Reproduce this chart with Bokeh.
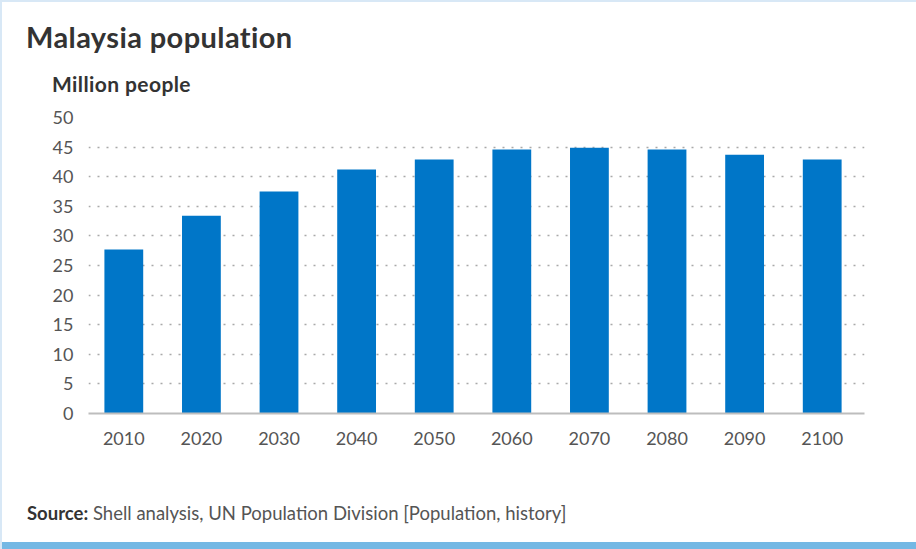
from bokeh.plotting import figure
from bokeh.models import Range1d, ColumnDataSource, Div, FixedTicker
from bokeh.layouts import column
from bokeh.embed import file_html
from bokeh.resources import INLINE

years = ["2010", "2020", "2030", "2040", "2050", "2060", "2070", "2080", "2090", "2100"]
population = [27.7, 33.4, 37.5, 41.2, 42.9, 44.6, 44.9, 44.6, 43.7, 42.9]
y_ticks = [0, 5, 10, 15, 20, 25, 30, 35, 40, 45, 50]

title_text = "Malaysia population"
unit_text = "Million people"
source_label = "Source:"
source_text = "Shell analysis, UN Population Division [Population, history]"

W, H = 916, 549
TOP_H, BOT_H = 100, 89
FIG_H = H - TOP_H - BOT_H  # 360
FL, FR, FT, FB = 88, 864, 117, 413  # frame edges in page pixels

xpos = list(range(len(years)))
p = figure(width=W, height=FIG_H, output_backend="svg", toolbar_location=None,
           x_range=Range1d(-0.455, len(years) - 0.455), y_range=Range1d(0, 50),
           min_border_left=FL, min_border_right=W - FR,
           min_border_top=FT - TOP_H, min_border_bottom=TOP_H + FIG_H - FB)
p.background_fill_color = "white"
p.border_fill_color = "white"
p.border_fill_alpha = 0
p.outline_line_color = None

src = ColumnDataSource(dict(x=xpos, top=population))
p.vbar(x="x", top="top", width=0.5, source=src, color="#0076c8", line_color=None)

p.xgrid.visible = False
p.ygrid.ticker = y_ticks[1:]
p.ygrid.grid_line_color = "#a9a9a9"
p.ygrid.grid_line_dash = "2 7"
p.ygrid.grid_line_width = 1.5

p.yaxis.ticker = y_ticks
p.yaxis.axis_line_color = None
p.yaxis.major_tick_line_color = None
p.yaxis.minor_tick_line_color = None
p.yaxis.major_label_text_font = "Lato"
p.yaxis.major_label_text_font_size = "18px"
p.yaxis.major_label_text_color = "#555555"
p.yaxis.major_label_standoff = 9

p.xaxis.ticker = FixedTicker(ticks=xpos)
p.xaxis.major_label_overrides = {i: y for i, y in zip(xpos, years)}
p.xaxis.axis_line_color = "#bdbdbd"
p.xaxis.axis_line_width = 2
p.xaxis.major_tick_line_color = None
p.xaxis.minor_tick_line_color = None
p.xaxis.major_label_text_font = "Lato"
p.xaxis.major_label_text_font_size = "18px"
p.xaxis.major_label_text_color = "#555555"
p.xaxis.major_label_standoff = 12

top_html = (
    '<div style="position:relative;width:%dpx;height:%dpx;font-family:Lato,sans-serif;">'
    '<span style="position:absolute;left:26px;top:20px;font-size:29px;line-height:34px;'
    'font-weight:bold;color:#333333;white-space:nowrap;letter-spacing:0.4px;">%s</span>'
    '<span style="position:absolute;left:52px;top:71px;font-size:21px;line-height:26px;'
    'font-weight:bold;color:#333333;white-space:nowrap;letter-spacing:0.4px;">%s</span>'
    '</div>' % (W, TOP_H, title_text, unit_text)
)
bot_html = (
    '<div style="position:relative;width:%dpx;height:%dpx;font-family:Lato,sans-serif;">'
    '<span style="position:absolute;left:27px;top:42px;font-size:18.5px;line-height:22px;'
    'color:#555555;white-space:nowrap;"><b style="color:#333333;">%s</b> %s</span>'
    '</div>' % (W, BOT_H, source_label, source_text)
)
top_div = Div(text=top_html, width=W, height=TOP_H, styles={"margin": "0", "padding": "0"})
bot_div = Div(text=bot_html, width=W, height=BOT_H, styles={"margin": "0", "padding": "0"})

layout = column(top_div, p, bot_div, spacing=0, width=W, height=H,
                styles={"background-color": "white",
                        "box-shadow": "inset 2px 2px 0 #d8e8f6, inset 0 -7px 0 #74b8e4"})

open("out.html", "w").write(file_html(layout, INLINE))
